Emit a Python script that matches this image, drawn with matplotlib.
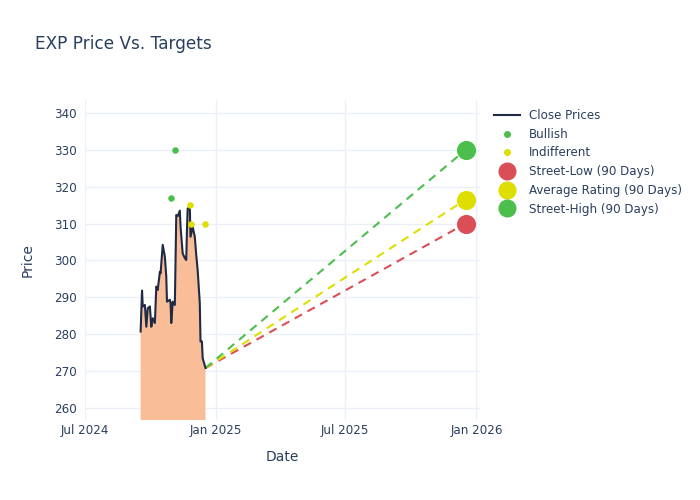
import matplotlib
matplotlib.use("Agg")
import matplotlib.pyplot as plt
import matplotlib.dates as mdates
import pandas as pd
from matplotlib.lines import Line2D

close_dates = ["2024-09-17", "2024-09-19", "2024-09-20", "2024-09-23", "2024-09-25", "2024-09-27",
               "2024-09-30", "2024-10-02", "2024-10-04", "2024-10-07", "2024-10-09", "2024-10-11",
               "2024-10-14", "2024-10-15", "2024-10-18", "2024-10-21", "2024-10-23", "2024-10-24",
               "2024-10-28", "2024-10-29", "2024-10-30", "2024-11-01", "2024-11-04", "2024-11-06",
               "2024-11-08", "2024-11-11", "2024-11-12", "2024-11-15", "2024-11-18", "2024-11-20",
               "2024-11-21", "2024-11-22", "2024-11-25", "2024-11-26", "2024-11-29", "2024-12-02",
               "2024-12-04", "2024-12-06", "2024-12-09", "2024-12-10", "2024-12-12", "2024-12-13",
               "2024-12-17"]
close_prices = [280.7, 291.8, 287.5, 287.9, 282.0, 287.0,
                287.5, 282.0, 284.3, 283.0, 292.9, 292.0,
                296.9, 296.5, 304.2, 301.0, 295.6, 288.8,
                289.3, 288.4, 283.0, 288.8, 287.9, 312.3,
                312.0, 313.5, 309.1, 301.9, 300.6, 300.1,
                308.2, 314.1, 314.1, 306.4, 309.1, 306.4,
                301.5, 297.4, 288.4, 278.0, 278.0, 273.5,
                270.8]

bullish_dates = ["2024-10-30", "2024-11-04"]
bullish_values = [317, 330]
indiff_dates = ["2024-11-25", "2024-11-27", "2024-12-16"]
indiff_values = [315, 310, 310]

target_date = "2025-12-17"
street_low = 310
avg_rating = 316.5
street_high = 330

navy = "#1f2a44"
text_c = "#2a3f5f"
grid_c = "#ebf0f8"
fill_c = "#f9bd98"
green = "#4cbe4c"
yellow = "#dede00"
red = "#d94f55"

cd = pd.to_datetime(close_dates)
bd = pd.to_datetime(bullish_dates)
idd = pd.to_datetime(indiff_dates)
td = pd.to_datetime(target_date)

fig = plt.figure(figsize=(7, 5), dpi=100)
ax = fig.add_axes([85/700, 1-420/500, 395/700, 320/500])

ax.fill_between(cd, close_prices, 0, color=fill_c, linewidth=0, zorder=1)
ax.plot(cd, close_prices, color=navy, lw=1.5, zorder=3)

last_d, last_p = cd[-1], close_prices[-1]
for val, col in [(street_low, red), (avg_rating, yellow), (street_high, green)]:
    ax.plot([last_d, td], [last_p, val], color=col, lw=1.5, ls=(0, (4, 3)), zorder=2)

ax.scatter(bd, bullish_values, s=22, color=green, zorder=4, linewidths=0)
ax.scatter(idd, indiff_values, s=22, color=yellow, zorder=4, linewidths=0)
ax.scatter([td], [street_low], s=190, color=red, zorder=5, linewidths=0)
ax.scatter([td], [avg_rating], s=190, color=yellow, zorder=5, linewidths=0)
ax.scatter([td], [street_high], s=190, color=green, zorder=5, linewidths=0)

ax.set_xlim(pd.Timestamp("2024-07-01"), pd.Timestamp("2026-01-06"))
ax.set_ylim(256.7, 343.5)
ax.xaxis.set_major_locator(mdates.MonthLocator(bymonth=[1, 7]))
ax.xaxis.set_major_formatter(mdates.DateFormatter("%b %Y"))
ax.set_yticks(range(260, 341, 10))
ax.grid(True, color=grid_c, lw=1)
ax.set_axisbelow(True)
for s in ax.spines.values():
    s.set_visible(False)
ax.tick_params(length=0, labelsize=8.6, colors=text_c)
ax.tick_params(axis="x", pad=3)
ax.tick_params(axis="y", pad=6)
ax.set_xlabel("Date", fontsize=10, color=text_c, labelpad=9)
ax.set_ylabel("Price", fontsize=10, color=text_c, labelpad=14)

fig.text(35/700, 1-44/500, "EXP Price Vs. Targets", fontsize=12.2, color=text_c, va="center", ha="left")

handles = [
    Line2D([], [], color=navy, lw=1.5),
    Line2D([], [], marker="o", ls="", color=green, markersize=4),
    Line2D([], [], marker="o", ls="", color=yellow, markersize=4),
    Line2D([], [], marker="o", ls="", color=red, markersize=12),
    Line2D([], [], marker="o", ls="", color=yellow, markersize=12),
    Line2D([], [], marker="o", ls="", color=green, markersize=12),
]
labels = ["Close Prices", "Bullish", "Indifferent", "Street-Low (90 Days)",
          "Average Rating (90 Days)", "Street-High (90 Days)"]
leg = fig.legend(handles, labels, loc="upper left", bbox_to_anchor=(494/700, 1-109/500),
                 frameon=False, fontsize=8.6, labelcolor=text_c, handlelength=2.2,
                 handletextpad=0.7, labelspacing=0.48, borderpad=0, borderaxespad=0)

fig.savefig("out.png", dpi=100)
